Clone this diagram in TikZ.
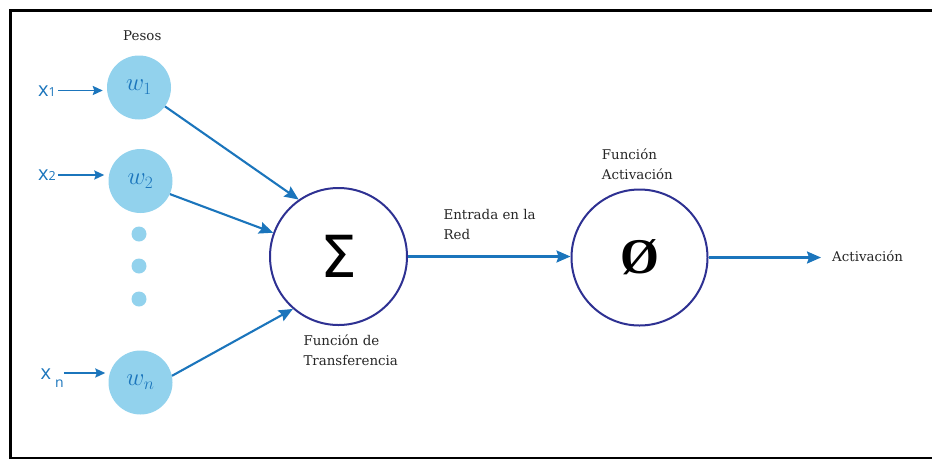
\documentclass[tikz,border=0pt]{standalone}
\usepackage{fontspec}
\usetikzlibrary{arrows.meta}
\newfontfamily\sansx{Open Sans}
\newfontfamily\symf{DejaVu Sans}
\newfontfamily\serifsym{Liberation Serif}
\newfontfamily\lblfont{DejaVu Serif}
\definecolor{wfill}{RGB}{146,210,237}
\definecolor{arrblue}{RGB}{27,117,188}
\definecolor{navyc}{RGB}{46,49,146}
\tikzset{
  lbl/.style={inner sep=0pt, anchor=base west, text=black!85, font=\lblfont\fontsize{13.4}{16}\selectfont},
  wnode/.style={circle, fill=wfill, minimum size=64pt, inner sep=0pt, text=arrblue, font=\fontsize{24}{24}\selectfont},
  dotc/.style={circle, fill=wfill, minimum size=15pt, inner sep=0pt},
  bigc/.style={circle, draw=navyc, line width=2pt, minimum size=136pt, inner sep=0pt},
  xlab/.style={inner sep=0pt, text=arrblue, font=\sansx\fontsize{20}{20}\selectfont},
  arr/.style={draw=arrblue, line width=2.1pt, -{Stealth[length=14pt,width=12pt,inset=2pt]}},
  arrs/.style={draw=arrblue, line width=1.9pt, -{Stealth[length=10pt,width=9pt,inset=1.5pt]}},
}
\begin{document}
\begin{tikzpicture}[x=1pt,y=-1pt]
\useasboundingbox (0,0) rectangle (932,459);
% frame
\draw[line width=3pt] (10.5,459) -- (10.5,10.5) -- (932,10.5);
\draw[line width=2pt] (9,458) -- (932,458);

% weight nodes
\node[wnode] (w1) at (139,87.5) {$w_1$};
\node[wnode] (w2) at (140.5,181) {$w_2$};
\node[wnode] (wn) at (140.5,382.5) {$w_n$};
\node[dotc] (d1) at (139,234) {};
\node[dotc] (d2) at (139,266) {};
\node[dotc] (d3) at (139,299) {};

% inputs
\node[xlab, anchor=base west] (x1) at (38,96.5) {x\fontsize{12.5}{12.5}\selectfont 1};
\node[xlab, anchor=base west] (x2) at (38,180.5) {x\fontsize{12.5}{12.5}\selectfont 2};
\node[xlab, anchor=base west] (xn) at (40.5,379) {x\hspace{4pt}\raisebox{-8pt}{\fontsize{14}{14}\selectfont n}};

\draw[arrs, shorten <=2pt, shorten >=4pt] (x1.east |- w1.west) ++(0,3) coordinate (x1s) -- (x1s -| w1.west);
\draw[arrs, shorten <=2pt, shorten >=4pt] (x2.east |- w2.west) ++(0,-6) coordinate (x2s) -- (x2s -| w2.west);
\draw[arrs, shorten >=3pt] (xn.east |- wn.west) ++(0,-9.5) coordinate (xns) -- (xns -| wn.west);

% summation and activation
\node[bigc, minimum size=137pt] (sig) at (338.5,256.5) {\symf\fontsize{58}{58}\selectfont Σ};
\node[bigc] (phi) at (639.5,257.5) {\serifsym\bfseries\fontsize{50}{50}\selectfont Ø};

\draw[arr] (w1.-36) -- (sig.125);
\draw[arr] (w2.-24) -- (sig.160);
\draw[arr] (wn.12) -- (sig.229);
\draw[arr] (sig.east) -- (sig.east -| phi.west);

\node[lbl] (act) at (832,261.7) {Activación};
\draw[arr, shorten >=11pt] (phi.east) -- (phi.east -| act.west);

% labels
\node[lbl] (pesos) at (123,40.7) {Pesos};
\node[lbl] (ft1) at (303.3,345.7) {Función de};
\node[lbl] (ft2) at (303.3,365.2) {Transferencia};
\node[lbl] (er1) at (443.3,219) {Entrada en la};
\node[lbl] (er2) at (443.3,239) {Red};
\node[lbl] (fa1) at (601.7,159.3) {Función};
\node[lbl] (fa2) at (601.7,179.3) {Activación};
\end{tikzpicture}
\end{document}
